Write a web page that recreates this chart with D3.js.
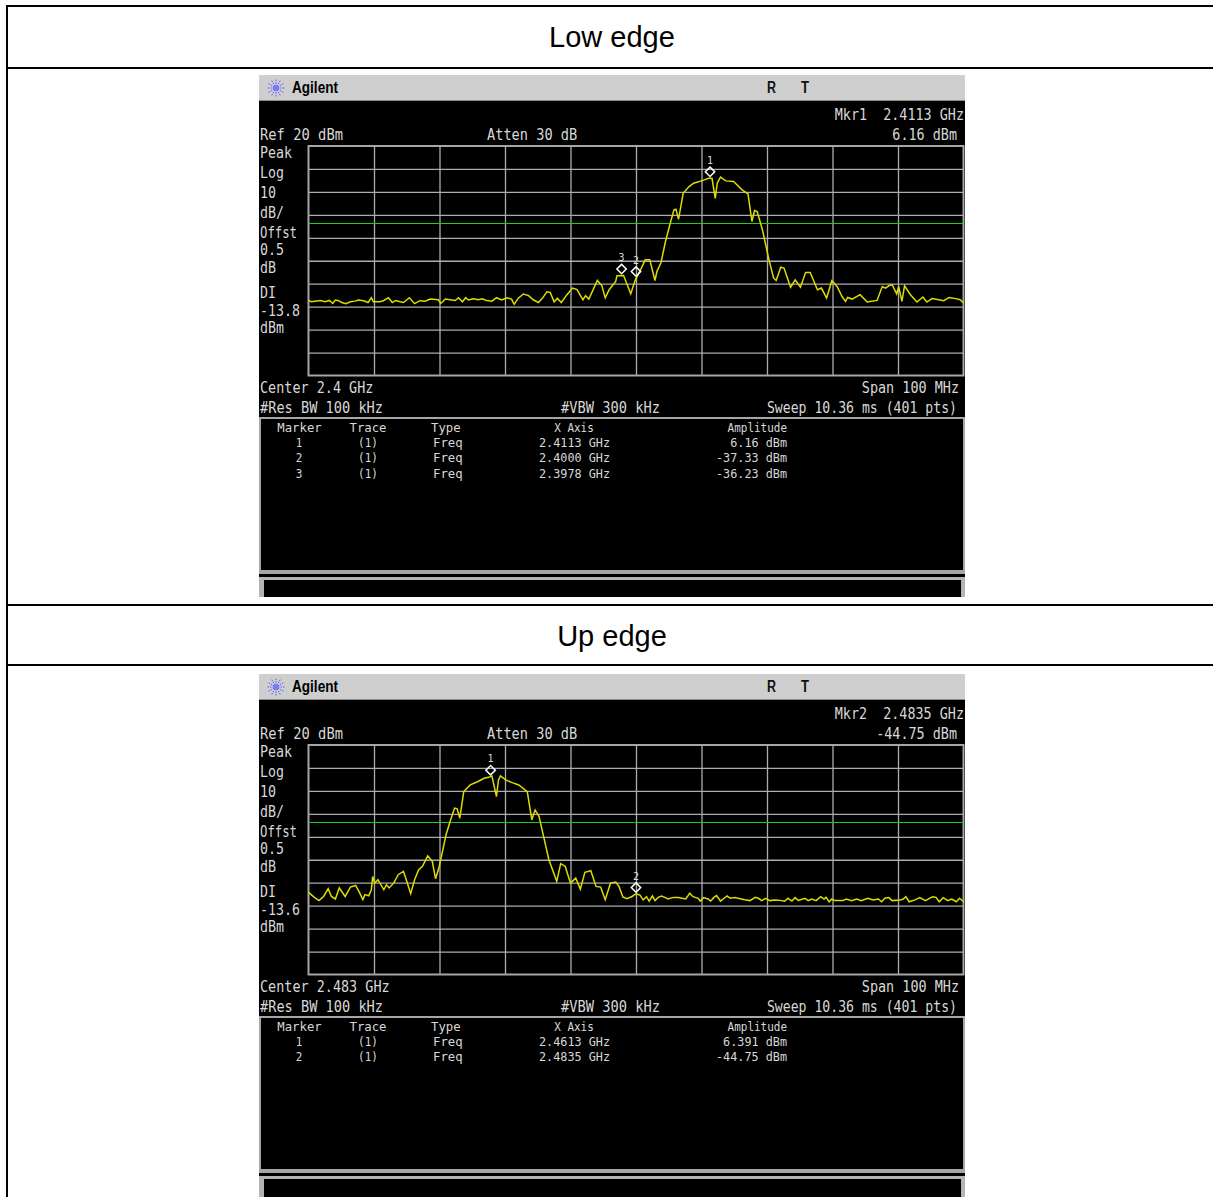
<!DOCTYPE html>
<meta charset="utf-8">
<title>Low edge / Up edge</title>
<!-- Load d3.js -->
<script src="https://d3js.org/d3.v7.min.js"></script>
<style>
    html, body { margin: 0; padding: 0; background: #fff; overflow: hidden; }
    svg { display: block; }
    text { white-space: pre; }
    .scr { font-family: "DejaVu Sans Mono", monospace; fill: #d8d8d8; }
    .grid line { stroke: #adadad; stroke-width: 1.3; }
    .grid path { display: none; }
</style>
<body>
<div id="chart"></div>
<script>
    // trace data: offset inside the 100 MHz span (MHz) and level (dBm)
    var lowMHz = [0,0.4,1.0,1.8,2.5,3.2,3.7,4.1,4.6,5.1,5.7,6.4,7.1,7.6,8.4,9.1,9.6,9.9,10.9,11.5,12.2,12.8,13.3,14.0,14.5,15.4,16.2,17.0,17.8,18.6,19.8,20.2,20.9,21.6,22.4,22.9,23.5,24.0,24.4,25.2,25.9,26.5,27.2,28.0,28.7,29.5,30.3,31.0,31.4,32.0,32.8,33.6,34.3,35.1,35.7,36.4,36.9,37.5,38.0,38.6,39.4,40.3,41.0,41.9,42.3,42.8,44.1,44.8,45.3,45.9,46.9,47.1,48.1,49.2,49.9,50.7,51.4,52.1,52.9,53.2,53.8,54.5,55.3,55.8,56.1,56.5,57.2,58.1,58.8,60.1,61.1,61.6,62.1,62.4,62.9,63.7,64.9,66.2,67.1,67.7,68.1,68.5,69.3,70.3,71.0,71.4,72.1,72.6,73.6,74.3,75.1,75.9,76.6,77.7,78.3,79.1,79.9,80.7,81.5,82.0,82.3,83.0,84.2,85.3,86.8,87.6,88.1,88.6,89.1,89.8,90.1,90.6,91.0,91.9,92.9,93.8,94.4,95.2,96.2,97.0,97.8,98.8,99.5,100];
    var lowDbm = [-47.1,-47.9,-47.6,-47.3,-47.9,-47.3,-48.6,-47.1,-47.4,-48.2,-48.7,-47.9,-47.6,-47.1,-47.4,-48.2,-46.1,-47.9,-47.9,-47.3,-46.1,-48.2,-47.3,-47.9,-48.2,-46.1,-48.7,-47.4,-47.6,-46.7,-47.0,-48.6,-46.7,-47.0,-47.3,-46.1,-47.9,-46.1,-47.1,-46.6,-47.0,-46.6,-47.3,-47.6,-46.1,-47.1,-46.1,-46.7,-49.0,-46.4,-44.5,-45.2,-47.0,-48.2,-46.4,-43.5,-43.8,-47.9,-46.4,-48.2,-45.0,-41.9,-42.6,-47.0,-45.2,-46.7,-38.6,-40.9,-46.2,-42.6,-39.0,-36.5,-36.4,-44.4,-38.3,-33.9,-29.6,-29.6,-38.6,-34.6,-31.0,-21.6,-12.9,-7.8,-7.5,-11.9,-0.6,2.3,3.8,4.9,5.9,5.9,-2.8,3.8,6.4,4.8,4.5,0.9,-0.9,-12.9,-8.1,-8.6,-16.5,-29.6,-37.5,-38.6,-32.8,-33.2,-41.5,-38.3,-41.5,-35.1,-35.1,-42.6,-41.9,-46.2,-38.7,-41.2,-45.8,-47.7,-46.0,-46.7,-44.8,-48.0,-47.3,-41.2,-41.9,-40.9,-40.4,-44.4,-41.2,-47.7,-40.9,-44.8,-48.0,-45.8,-48.0,-46.5,-47.0,-47.4,-46.0,-46.5,-47.0,-48.4];

    var upMHz = [0,0.8,1.6,2.3,3.0,3.5,4.1,4.7,5.6,6.4,7.2,7.7,8.3,8.6,9.2,9.6,9.8,10.1,10.6,11.5,11.9,12.3,13.0,13.7,14.5,15.1,15.6,16.2,16.8,17.4,18.2,18.9,19.4,19.9,20.4,21.0,21.7,22.3,22.7,23.1,23.7,24.7,25.8,26.8,27.5,28.0,28.7,29.0,29.3,30.1,31.1,32.1,33.4,34.1,34.6,35.2,35.9,36.7,37.9,38.5,39.2,40.0,40.8,41.5,42.2,43.1,43.9,44.6,45.3,46.1,46.9,47.4,48.0,48.6,49.4,50.0,50.6,51.1,51.6,52.0,52.5,52.9,53.4,53.9,54.4,54.9,55.7,56.5,57.0,57.6,58.2,58.7,59.5,59.8,60.3,61.0,61.4,61.9,62.3,62.9,63.3,63.9,64.4,65.1,65.9,66.6,67.4,68.2,68.7,69.2,69.8,70.4,71.2,72.0,72.7,73.2,73.8,74.3,74.8,75.0,75.8,76.3,76.8,77.5,78.2,78.7,79.0,79.5,79.9,80.3,81.6,82.1,82.9,83.7,84.4,85.4,86.2,87.0,87.5,88.0,88.6,89.1,90.3,90.8,91.2,91.7,92.6,93.3,94.2,94.8,95.3,95.8,96.3,96.9,97.6,98.2,98.9,99.4,100];
    var upDbm = [-44.2,-46.2,-47.8,-46.0,-42.6,-46.0,-47.1,-42.3,-46.0,-41.9,-41.2,-43.8,-47.4,-45.2,-45.7,-43.1,-37.3,-40.2,-38.7,-43.1,-40.9,-42.3,-40.2,-36.5,-35.1,-40.2,-44.8,-38.7,-34.4,-32.9,-28.3,-30.7,-38.3,-33.6,-27.1,-19.1,-12.6,-7.5,-7.8,-11.9,-0.3,2.6,4.0,5.5,5.9,6.5,-2.5,4.8,6.5,4.8,3.6,2.6,-0.3,-12.6,-8.3,-11.2,-19.9,-30.0,-39.4,-31.7,-32.9,-40.2,-38.0,-42.8,-35.5,-34.8,-41.6,-41.9,-47.4,-40.2,-39.7,-41.6,-46.2,-47.0,-46.0,-44.8,-45.4,-47.5,-46.1,-48.0,-45.8,-47.8,-46.4,-45.8,-46.4,-47.1,-46.4,-46.5,-46.8,-47.1,-44.6,-46.1,-46.8,-48.0,-46.5,-47.1,-48.0,-46.4,-45.6,-48.0,-47.1,-45.8,-46.8,-46.5,-47.0,-47.4,-47.8,-46.4,-46.8,-47.8,-46.8,-47.8,-47.5,-47.7,-48.1,-46.8,-48.0,-46.5,-47.8,-47.5,-46.8,-47.8,-47.1,-47.8,-46.1,-47.1,-46.4,-48.3,-47.1,-47.8,-47.8,-47.1,-47.8,-47.1,-47.8,-46.8,-47.5,-47.1,-48.3,-46.8,-46.5,-47.8,-47.5,-47.1,-46.1,-48.3,-47.5,-46.5,-47.8,-46.8,-46.1,-46.4,-48.3,-46.5,-47.8,-47.1,-48.3,-46.8,-48.3];

    // marker table values
    var lowMarkerFreq = [2.4113, 2.4000, 2.3978];
    var lowMarkerAmp = [6.16, -37.33, -36.23];
    var lowMarkerAmpText = ["6.16 dBm", "-37.33 dBm", "-36.23 dBm"];
    var upMarkerFreq = [2.4613, 2.4835];
    var upMarkerAmp = [6.391, -44.75];
    var upMarkerAmpText = ["6.391 dBm", "-44.75 dBm"];

    var dbTicks = [10, 0, -10, -20, -30, -40, -50, -60, -70];
    var spanTicks = [10, 20, 30, 40, 50, 60, 70, 80, 90];
    var sideLabels = ["Peak", "Log", "10", "dB/", "Offst", "0.5", "dB", "DI"];
    var sideLabelY = [158, 178, 198, 218, 238, 255, 273, 298];

    var svg = d3.select("#chart").append("svg")
        .attr("width", 1213)
        .attr("height", 1197);

    // screen text, squeezed to the narrow analyzer font
    function scrText(g, x, y, str, size, cw, anchor) {
        return g.append("text")
            .attr("class", "scr")
            .attr("x", x)
            .attr("y", y)
            .attr("font-size", size)
            .attr("text-anchor", anchor || "start")
            .attr("textLength", str.length * cw)
            .attr("lengthAdjust", "spacingAndGlyphs")
            .text(str);
    }

    function drawPanel(dy, clipH, o) {
        var g = svg.append("g").attr("transform", "translate(0," + dy + ")");

        // instrument background and title bar
        g.append("rect").attr("x", 259).attr("y", 75).attr("width", 706).attr("height", clipH - 75).attr("fill", "#000");
        g.append("rect").attr("x", 259).attr("y", 75).attr("width", 706).attr("height", 26).attr("fill", "#cecece");
        g.append("rect").attr("x", 259).attr("y", 100).attr("width", 706).attr("height", 1).attr("fill", "#8a8a8a");

        // agilent starburst
        var star = g.append("g").attr("transform", "translate(276,88)");
        star.selectAll("line").data(d3.range(12)).enter().append("line")
            .attr("x1", function(d) { return 2 * Math.cos(d * Math.PI / 6); })
            .attr("y1", function(d) { return 2 * Math.sin(d * Math.PI / 6); })
            .attr("x2", function(d) { return 9 * Math.cos(d * Math.PI / 6); })
            .attr("y2", function(d) { return 9 * Math.sin(d * Math.PI / 6); })
            .attr("stroke", "#5a5aff")
            .attr("stroke-width", 1)
            .attr("stroke-dasharray", "1.5 1");
        star.append("circle").attr("r", 2.5).attr("fill", "#7a7aff");

        g.append("text").attr("x", 292).attr("y", 93)
            .attr("font-family", "Liberation Sans").attr("font-weight", "bold").attr("font-size", 16)
            .attr("textLength", 46).attr("lengthAdjust", "spacingAndGlyphs").attr("fill", "#000")
            .text("Agilent");
        g.append("text").attr("x", 767).attr("y", 93)
            .attr("font-family", "Liberation Sans").attr("font-weight", "bold").attr("font-size", 16)
            .attr("textLength", 9).attr("lengthAdjust", "spacingAndGlyphs").attr("fill", "#111").text("R");
        g.append("text").attr("x", 801).attr("y", 93)
            .attr("font-family", "Liberation Sans").attr("font-weight", "bold").attr("font-size", 16)
            .attr("textLength", 8).attr("lengthAdjust", "spacingAndGlyphs").attr("fill", "#111").text("T");

        // scales
        var x = d3.scaleLinear().domain([0, 100]).range([308.5, 963.5]);
        var y = d3.scaleLinear().domain([20, -80]).range([146, 375.5]);
        var xFreq = function(f) { return x((f - o.startGHz) * 1000); };

        // grid
        g.append("g").attr("class", "grid")
            .attr("transform", "translate(0,375.5)")
            .call(d3.axisBottom(x).tickValues(spanTicks).tickSize(-229.5).tickFormat(""));
        g.append("g").attr("class", "grid")
            .attr("transform", "translate(308.5,0)")
            .call(d3.axisLeft(y).tickValues(dbTicks).tickSize(-655).tickFormat(""));
        g.append("rect")
            .attr("x", 308.5).attr("y", 146).attr("width", 655).attr("height", 229.5)
            .attr("fill", "none").attr("stroke", "#a6a6a6").attr("stroke-width", 2);

        // display line, kept on a whole pixel row
        var dlY = Math.floor(y(o.displayLine)) + 0.5;
        g.append("line")
            .attr("x1", x(0)).attr("x2", x(100))
            .attr("y1", dlY).attr("y2", dlY)
            .attr("stroke", "#1cd01c").attr("stroke-width", 1);

        // trace
        var line = d3.line()
            .x(function(d, i) { return x(o.mhz[i]); })
            .y(function(d) { return y(d); });
        g.append("path")
            .attr("d", line(o.dbm))
            .attr("fill", "none")
            .attr("stroke", "#dcdc00")
            .attr("stroke-width", 1.5);

        // markers sit just above the trace point
        o.markerFreq.forEach(function(f, i) {
            var mx = xFreq(f), my = y(o.markerAmp[i]) - 6;
            g.append("path")
                .attr("d", d3.symbol().type(d3.symbolSquare).size(44)())
                .attr("transform", "translate(" + mx + "," + my + ") rotate(45)")
                .attr("fill", "none").attr("stroke", "#fff").attr("stroke-width", 1.5);
            scrText(g, mx, my - 8, String(i + 1), 11, 6, "middle");
        });

        // header text
        scrText(g, 964, 120, o.mkrLine, 15, 8.08, "end");
        scrText(g, 957, 140, o.mkrAmp, 15, 8.08, "end");
        scrText(g, 260, 140, "Ref 20 dBm", 15, 8.3);
        scrText(g, 487, 140, "Atten 30 dB", 15, 8.2);
        sideLabels.forEach(function(s, i) {
            scrText(g, 260, sideLabelY[i], s, 15, s == "Offst" ? 7.4 : 8);
        });
        scrText(g, 260, 316, o.displayText, 15, 8);
        scrText(g, 260, 333, "dBm", 15, 8);
        scrText(g, 260, 393, o.centerText, 15, 8.1);
        scrText(g, 959, 393, "Span 100 MHz", 15, 8.1, "end");
        scrText(g, 260, 413, "#Res BW 100 kHz", 15, 8.2);
        scrText(g, 561, 413, "#VBW 300 kHz", 15, 8.25);
        scrText(g, 957, 413, "Sweep 10.36 ms (401 pts)", 15, 7.92, "end");

        // marker table
        g.append("rect").attr("x", 260).attr("y", 418).attr("width", 704).attr("height", 153)
            .attr("fill", "#000").attr("stroke", "#a6a6a6").attr("stroke-width", 2);
        scrText(g, 299.5, 431.5, "Marker", 11.5, 7.4, "middle");
        scrText(g, 368, 431.5, "Trace", 11.5, 7.4, "middle");
        scrText(g, 431, 431.5, "Type", 11.5, 7.4);
        scrText(g, 574, 431.5, "X Axis", 11.5, 6.6, "middle");
        scrText(g, 787, 431.5, "Amplitude", 11.5, 6.6, "end");
        o.markerFreq.forEach(function(f, i) {
            var ry = 447 + i * 15.4;
            scrText(g, 299, ry, String(i + 1), 11.5, 6.6, "middle");
            scrText(g, 368, ry, "(1)", 11.5, 6.6, "middle");
            scrText(g, 433, ry, "Freq", 11.5, 7.4);
            scrText(g, 610, ry, f.toFixed(4) + " GHz", 11.5, 7.1, "end");
            scrText(g, 787, ry, o.markerAmpText[i], 11.5, 7.1, "end");
        });

        // softkey strip cut off by the page
        g.append("rect").attr("x", 259).attr("y", 572).attr("width", 706).attr("height", 2).attr("fill", "#a6a6a6");
        g.append("rect").attr("x", 259).attr("y", 577).attr("width", 706).attr("height", clipH - 577).attr("fill", "#b4b4b4");
        g.append("rect").attr("x", 264).attr("y", 580).attr("width", 697).attr("height", clipH - 580).attr("fill", "#000");
    }

    drawPanel(0, 597, {
        startGHz: 2.35, mhz: lowMHz, dbm: lowDbm, displayLine: -13.8, displayText: "-13.8",
        markerFreq: lowMarkerFreq, markerAmp: lowMarkerAmp, markerAmpText: lowMarkerAmpText,
        mkrLine: "Mkr1  2.4113 GHz", mkrAmp: "6.16 dBm", centerText: "Center 2.4 GHz"
    });
    drawPanel(599, 598, {
        startGHz: 2.4335, mhz: upMHz, dbm: upDbm, displayLine: -13.6, displayText: "-13.6",
        markerFreq: upMarkerFreq, markerAmp: upMarkerAmp, markerAmpText: upMarkerAmpText,
        mkrLine: "Mkr2  2.4835 GHz", mkrAmp: "-44.75 dBm", centerText: "Center 2.483 GHz"
    });

    // document table rules
    var rules = svg.append("g").attr("stroke", "#000").attr("stroke-width", 2);
    [6, 68, 605, 665].forEach(function(ry) {
        rules.append("line").attr("x1", 6).attr("x2", 1213).attr("y1", ry).attr("y2", ry);
    });
    rules.append("line").attr("x1", 7).attr("x2", 7).attr("y1", 5).attr("y2", 1197);

    svg.append("text").attr("x", 612).attr("y", 47).attr("text-anchor", "middle")
        .attr("font-family", "Liberation Sans").attr("font-size", 29).attr("fill", "#000").text("Low edge");
    svg.append("text").attr("x", 612).attr("y", 646).attr("text-anchor", "middle")
        .attr("font-family", "Liberation Sans").attr("font-size", 29).attr("fill", "#000").text("Up edge");
</script>
</body>
